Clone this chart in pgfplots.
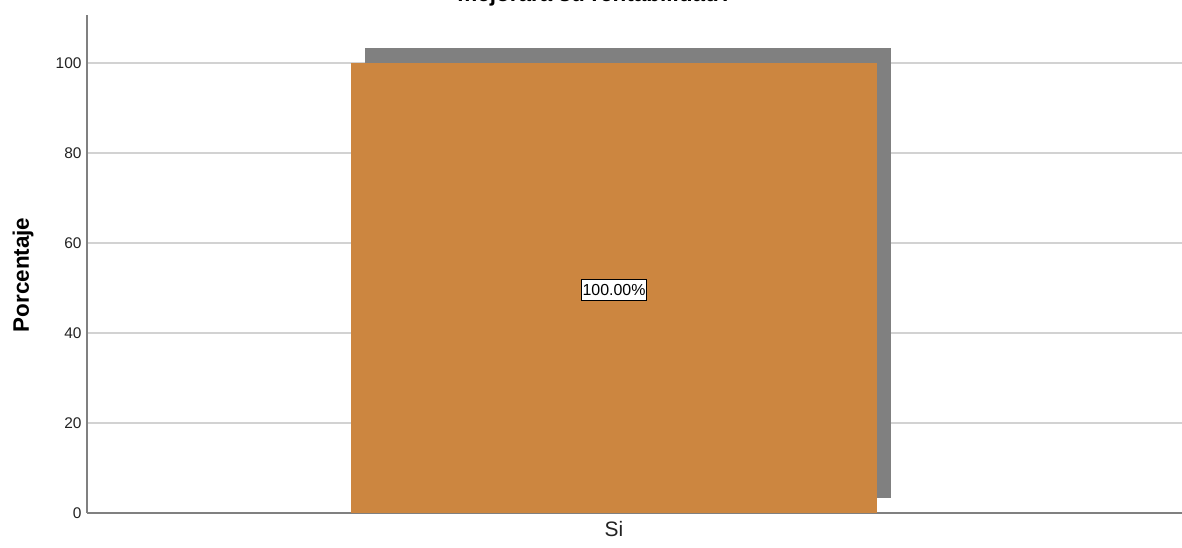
\documentclass[border=0pt]{standalone}
\usepackage{fontspec}
\setmainfont{Liberation Sans}
\usepackage{pgfplots}
\pgfplotsset{compat=1.18}

\definecolor{barorange}{RGB}{204,134,64}
\definecolor{shadowgray}{RGB}{128,128,128}
\definecolor{gridgray}{RGB}{210,210,210}
\definecolor{axisgray}{RGB}{128,128,128}
\definecolor{labelink}{RGB}{34,34,34}

\begin{document}
\begin{tikzpicture}
\path[use as bounding box] (0bp,0bp) rectangle (1182bp,548bp);
\clip (0bp,0bp) rectangle (1182bp,548bp);
% chart title (its upper part lies beyond the page edge)
\node[font=\bfseries\fontsize{22.6}{26}\selectfont, anchor=base, text=black]
  at (595bp,546bp) {mejorará su rentabilidad?};
\begin{axis}[
  at={(87bp,35bp)}, anchor=south west,
  scale only axis, width=1095bp, height=498bp,
  xmin=-1.002, xmax=1.080, ymin=0, ymax=110.67,
  axis x line*=bottom, axis y line*=left,
  axis line style={axisgray, line width=1.5bp, -},
  ytick={0,20,40,60,80,100},
  xtick={0}, xticklabels={Si},
  major tick length=0pt,
  ymajorgrids,
  grid style={gridgray, line width=1.3bp},
  /pgf/number format/assume math mode=true,
  yticklabel style={font=\fontsize{15.5}{18}\selectfont, text=labelink, xshift=-2bp},
  xticklabel style={font=\fontsize{21}{24}\selectfont, text=labelink, yshift=-5bp},
  ylabel={Porcentaje},
  ylabel style={font=\bfseries\fontsize{22.5}{26}\selectfont, text=black,
    at={(axis description cs:-0.0584,0.478)}, anchor=center},
  clip=false,
]
% drop shadow behind the bar
\addplot[fill=shadowgray, draw=none] coordinates
  {(-0.4734,3.33) (0.5266,3.33) (0.5266,103.33) (-0.4734,103.33)} -- cycle;
% the bar itself
\addplot[ybar, bar width=1, fill=barorange, draw=none] coordinates {(0,100)};
% value label in the middle of the bar
\addplot[draw=none, mark=none, point meta=explicit,
  nodes near coords={\pgfmathprintnumber[fixed,fixed zerofill,precision=2]{\pgfplotspointmeta}\%},
  every node near coord/.style={anchor=center, fill=white, draw=black, line width=1bp,
    inner xsep=1.5bp, inner ysep=5bp, font=\fontsize{16}{18}\selectfont, text=black}]
  coordinates {(0,49.6) [100]};
\end{axis}
\end{tikzpicture}
\end{document}
